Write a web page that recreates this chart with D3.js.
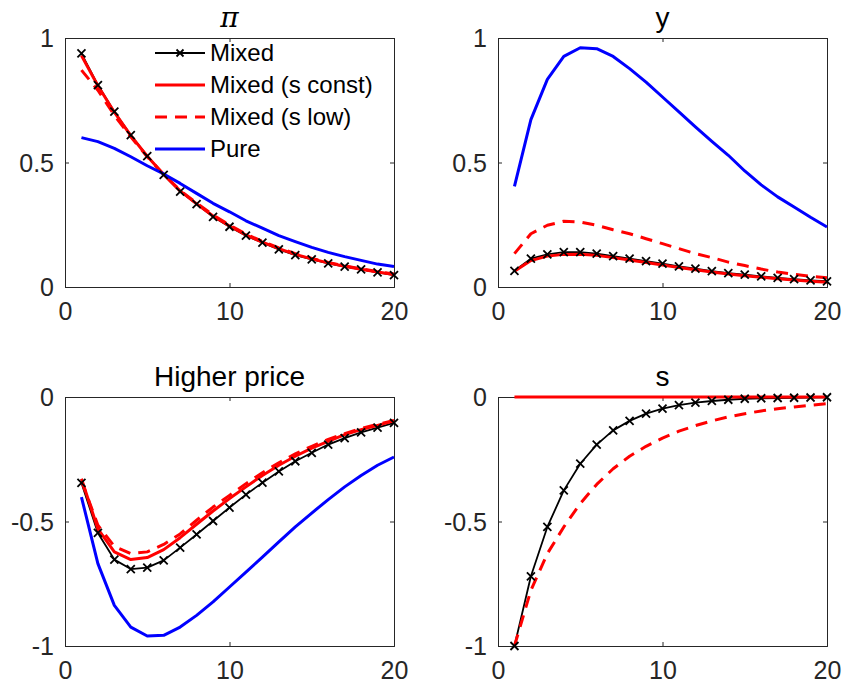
<!DOCTYPE html>
<meta charset="utf-8">
<style>
body { margin: 0; background: #fff; }
svg { font-family: "Liberation Sans", Arial, sans-serif; }
.tick text { fill: #262626; font-size: 25px; }
.title { fill: #000; font-size: 28px; text-anchor: middle; }
.legend text { font-size: 24px; fill: #000; }
</style>
<body>
<svg width="843" height="688"></svg>
<script src="https://d3js.org/d3.v7.min.js"></script>
<script>

var periods = d3.range(1, 21);
var seriesNames = ["Mixed", "Mixed (s const)", "Mixed (s low)", "Pure"];

// pi
var piMixed = [0.938, 0.811, 0.704, 0.61, 0.526, 0.45, 0.383, 0.333, 0.282, 0.242, 0.206, 0.178, 0.151, 0.128, 0.111, 0.095, 0.082, 0.071, 0.059, 0.048];
var piConst = [0.930, 0.808, 0.702, 0.608, 0.525, 0.452, 0.386, 0.334, 0.285, 0.245, 0.209, 0.18, 0.154, 0.131, 0.113, 0.097, 0.083, 0.071, 0.06, 0.05];
var piLow   = [0.871, 0.79, 0.69, 0.603, 0.523, 0.452, 0.388, 0.337, 0.289, 0.249, 0.213, 0.183, 0.157, 0.134, 0.115, 0.099, 0.085, 0.073, 0.062, 0.052];
var piPure  = [0.6, 0.584, 0.557, 0.523, 0.487, 0.454, 0.416, 0.376, 0.336, 0.302, 0.266, 0.236, 0.206, 0.182, 0.159, 0.139, 0.122, 0.107, 0.092, 0.082];

// y
var yMixed = [0.065, 0.114, 0.131, 0.14, 0.14, 0.134, 0.124, 0.114, 0.104, 0.094, 0.083, 0.074, 0.064, 0.056, 0.05, 0.043, 0.037, 0.032, 0.027, 0.023];
var yConst = [0.063, 0.106, 0.124, 0.131, 0.132, 0.127, 0.118, 0.108, 0.098, 0.088, 0.078, 0.069, 0.06, 0.052, 0.045, 0.039, 0.033, 0.028, 0.023, 0.019];
var yLow   = [0.134, 0.214, 0.248, 0.264, 0.261, 0.248, 0.23, 0.214, 0.194, 0.174, 0.154, 0.134, 0.118, 0.1, 0.086, 0.072, 0.06, 0.051, 0.043, 0.037];
var yPure  = [0.404, 0.672, 0.834, 0.926, 0.961, 0.957, 0.926, 0.877, 0.823, 0.763, 0.703, 0.643, 0.585, 0.529, 0.466, 0.41, 0.362, 0.321, 0.28, 0.241];

// Higher price
var hpMixed = [-0.345, -0.546, -0.653, -0.691, -0.685, -0.656, -0.605, -0.552, -0.498, -0.444, -0.392, -0.344, -0.299, -0.258, -0.224, -0.191, -0.165, -0.142, -0.123, -0.104];
var hpConst = [-0.328, -0.53, -0.622, -0.653, -0.645, -0.613, -0.565, -0.511, -0.458, -0.408, -0.361, -0.315, -0.274, -0.238, -0.205, -0.178, -0.151, -0.131, -0.114, -0.096];
var hpLow   = [-0.335, -0.515, -0.6, -0.629, -0.622, -0.592, -0.55, -0.495, -0.442, -0.395, -0.348, -0.304, -0.264, -0.228, -0.198, -0.17, -0.147, -0.127, -0.11, -0.094];
var hpPure  = [-0.402, -0.669, -0.837, -0.924, -0.96, -0.957, -0.924, -0.877, -0.823, -0.763, -0.703, -0.643, -0.582, -0.522, -0.466, -0.412, -0.361, -0.315, -0.274, -0.241];

// s
var sMixed = [-1, -0.72, -0.522, -0.375, -0.268, -0.191, -0.134, -0.096, -0.067, -0.047, -0.033, -0.023, -0.016, -0.011, -0.007, -0.005, -0.004, -0.003, -0.002, -0.001];
var sConst = [0, 0, 0, 0, 0, 0, 0, 0, 0, 0, 0, 0, 0, 0, 0, 0, 0, 0, 0, 0];
var sLow   = [-1, -0.776, -0.629, -0.522, -0.428, -0.351, -0.288, -0.238, -0.198, -0.165, -0.137, -0.115, -0.096, -0.08, -0.067, -0.056, -0.047, -0.04, -0.033, -0.027];

var xTicks = [0, 10, 20];

var panels = [
  { title: "\u03c0", italic: true, x: 65, y: 38, yDomain: [0, 1], yTicks: [0, 0.5, 1], series: [piMixed, piConst, piLow, piPure], legend: true },
  { title: "y", x: 498, y: 38, yDomain: [0, 1], yTicks: [0, 0.5, 1], series: [yMixed, yConst, yLow, yPure] },
  { title: "Higher price", x: 65, y: 397, yDomain: [-1, 0], yTicks: [-1, -0.5, 0], series: [hpMixed, hpConst, hpLow, hpPure] },
  { title: "s", x: 498, y: 397, yDomain: [-1, 0], yTicks: [-1, -0.5, 0], series: [sMixed, sConst, sLow, null] }
];

var styles = [
  { color: "#000", width: 1.8, dash: null, marker: true },
  { color: "#ff0000", width: 3, dash: null },
  { color: "#ff0000", width: 3, dash: "12,8" },
  { color: "#0000ff", width: 3, dash: null }
];

var w = 329, h = 249;
var svg = d3.select("svg");

function fmt(d) { return d === 0 ? "0" : String(d); }

function cross(sel, size) {
  sel.append("path")
    .attr("d", "M" + (-size) + "," + (-size) + "L" + size + "," + size + "M" + (-size) + "," + size + "L" + size + "," + (-size))
    .attr("stroke", "#000")
    .attr("stroke-width", 1.8)
    .attr("fill", "none");
}

panels.forEach(function(p) {
  var g = svg.append("g").attr("transform", "translate(" + p.x + "," + p.y + ")");
  var x = d3.scaleLinear().domain([0, 20]).range([0, w]);
  var y = d3.scaleLinear().domain(p.yDomain).range([h, 0]);

  // axes with inward ticks, box on
  var gx = g.append("g").attr("transform", "translate(0," + h + ")")
    .call(d3.axisBottom(x).tickValues(xTicks).tickSize(-4).tickPadding(10).tickFormat(fmt));
  var gy = g.append("g")
    .call(d3.axisLeft(y).tickValues(p.yTicks).tickSize(-4).tickPadding(11).tickFormat(fmt));
  g.append("g").call(d3.axisTop(x).tickValues(xTicks).tickSize(-4).tickFormat(""));
  g.append("g").attr("transform", "translate(" + w + ",0)")
    .call(d3.axisRight(y).tickValues(p.yTicks).tickSize(-4).tickFormat(""));
  g.selectAll(".domain").attr("stroke", "#262626").attr("stroke-width", 1);
  g.selectAll(".tick line").attr("stroke", "#262626");
  gx.selectAll("text").attr("dy", "0.9em");
  gy.selectAll("text").attr("dy", "0.35em");

  var line = d3.line()
    .x(function(d, i) { return x(periods[i]); })
    .y(function(d) { return y(d); });

  p.series.forEach(function(s, k) {
    if (!s) return;
    var st = styles[k];
    g.append("path")
      .datum(s)
      .attr("d", line)
      .attr("fill", "none")
      .attr("stroke", st.color)
      .attr("stroke-width", st.width)
      .attr("stroke-dasharray", st.dash)
      .attr("stroke-linejoin", "round");
    if (st.marker) {
      var mk = g.append("g").attr("class", "markers");
      s.forEach(function(v, i) {
        mk.append("g").attr("transform", "translate(" + x(periods[i]) + "," + y(v) + ")").call(cross, 4);
      });
    }
  });

  // keep black markers above the red solid line
  g.selectAll(".markers").raise();

  g.append("text")
    .attr("class", "title")
    .attr("x", w / 2)
    .attr("y", -11)
    .style("font-style", p.italic ? "italic" : null)
    .style("font-family", p.italic ? "'DejaVu Serif', serif" : null)
    .text(p.title);

  if (p.legend) {
    var lg = g.append("g").attr("class", "legend").attr("transform", "translate(90,15)");
    seriesNames.forEach(function(name, k) {
      var st = styles[k];
      var row = lg.append("g").attr("transform", "translate(0," + (k * 32) + ")");
      row.append("line")
        .attr("x1", 0).attr("x2", 50)
        .attr("stroke", st.color)
        .attr("stroke-width", st.width)
        .attr("stroke-dasharray", st.dash);
      if (st.marker) row.append("g").attr("transform", "translate(25,0)").call(cross, 3.5);
      row.append("text").attr("x", 55).attr("dy", "0.35em").text(name);
    });
  }
});

</script>
</body>
